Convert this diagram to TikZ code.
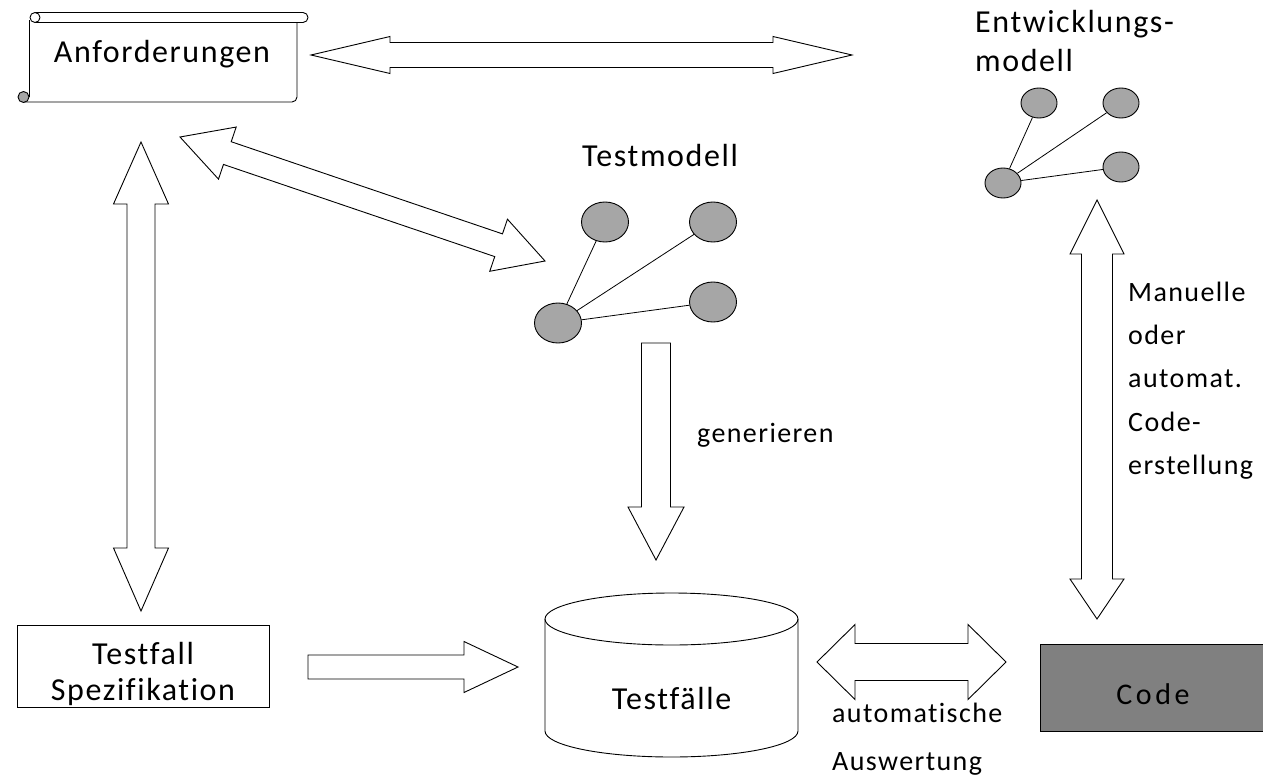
\documentclass[tikz,border=0pt]{standalone}
\usepackage{fontspec}
\setmainfont{Carlito}[LetterSpace=5, Ligatures=NoCommon]
\usetikzlibrary{shapes,calc}
\definecolor{knotgray}{RGB}{166,166,166}
\definecolor{codegray}{RGB}{128,128,128}

\tikzset{
	blockarrow/.style={draw=black, fill=white, line width=0.9pt, line join=miter},
	knoten/.style={shape=ellipse, draw=black, fill=knotgray, line width=0.9pt, minimum width=47pt, minimum height=40pt, inner sep=0pt},
	kleinknoten/.style={knoten, minimum width=36pt, minimum height=30pt},
	gross/.style={font=\fontsize{32}{38}\selectfont, inner sep=0pt},
	klein/.style={font=\fontsize{28}{34}\selectfont, inner sep=0pt}
}

% double block arrow: start, end, shaft half width, head half width, head lengths
\newcommand{\dblarrow}[6]{%
	\coordinate (h1) at ($(#1)!#5!(#2)$);
	\coordinate (h2) at ($(#2)!#6!(#1)$);
	\draw[blockarrow] (#1) -- ($(h1)!#4!90:(#2)$) -- ($(h1)!#3!90:(#2)$) -- ($(h2)!#3!-90:(#1)$) -- ($(h2)!#4!-90:(#1)$) -- (#2)
		-- ($(h2)!#4!90:(#1)$) -- ($(h2)!#3!90:(#1)$) -- ($(h1)!#3!-90:(#2)$) -- ($(h1)!#4!-90:(#2)$) -- cycle;
}
% single block arrow: tail, tip, shaft half width, head half width, head length
\newcommand{\sglarrow}[5]{%
	\coordinate (h2) at ($(#2)!#5!(#1)$);
	\draw[blockarrow] ($(#1)!#3!90:(#2)$) -- ($(h2)!#3!-90:(#1)$) -- ($(h2)!#4!-90:(#1)$) -- (#2)
		-- ($(h2)!#4!90:(#1)$) -- ($(h2)!#3!90:(#1)$) -- ($(#1)!#3!-90:(#2)$) -- cycle;
}

\begin{document}
\begin{tikzpicture}[x=1pt, y=-1pt]

	\useasboundingbox (0,0) rectangle (1263,779);

	% Anforderungen (scroll)
	\draw[line width=0.9pt] (29,20) -- (29,97);
	\draw[line width=0.9pt] (297,22.5) -- (297,97) arc[start angle=0, end angle=-90, radius=5pt] -- (23,102);
	\draw[line width=0.9pt, fill=white] (35,12.5) -- (303,12.5) arc[start angle=90, end angle=-90, radius=5pt] -- (35,22.5);
	\draw[line width=0.9pt, fill=white] (35,17.5) circle[radius=5pt];
	\draw[line width=0.9pt, fill=knotgray] (23.5,97) circle[radius=5.5pt];
	\draw (162,62) node[gross, anchor=base](anf){Anforderungen};

	% Testmodell
	\draw (660,166) node[gross, anchor=base](tm){Testmodell};
	\draw (605,222) node[knoten](t1){};
	\draw (713,222) node[knoten](t2){};
	\draw (713,302) node[knoten](t3){};
	\draw (558,323) node[knoten](t0){};
	\draw [line width=0.8pt](t0) -- (t1);
	\draw [line width=0.8pt](t0) -- (t2);
	\draw [line width=0.8pt](t0) -- (t3);

	% Entwicklungsmodell
	\draw (975,32) node[gross, anchor=base west](ent1){Entwicklungs-};
	\draw (975,71) node[gross, anchor=base west](ent2){modell};
	\draw (1039,103) node[kleinknoten](e1){};
	\draw (1121,103) node[kleinknoten](e2){};
	\draw (1121,167) node[kleinknoten](e3){};
	\draw (1003,183) node[kleinknoten](e0){};
	\draw [line width=0.8pt](e0) -- (e1);
	\draw [line width=0.8pt](e0) -- (e2);
	\draw [line width=0.8pt](e0) -- (e3);

	% Testfall Spezifikation
	\draw (143,666) node[shape=rectangle, draw=black, line width=0.9pt, minimum width=252pt, minimum height=82pt](tfs){};
	\draw (143,664) node[gross, anchor=base](tfs1){Testfall};
	\draw (143,700) node[gross, anchor=base](tfs2){Spezifikation};

	% Testfaelle (cylinder)
	\draw[line width=0.9pt] (545,619) -- (545,731) arc[start angle=180, end angle=360, x radius=126.5pt, y radius=26pt] -- (798,619);
	\draw[line width=0.9pt] (671.5,619) ellipse[x radius=126.5pt, y radius=26pt];
	\draw (671.5,709) node[gross, anchor=base](tc){Testfälle};

	% Code
	\draw (1040,644) node[shape=rectangle, draw=black, fill=codegray, line width=0.9pt, anchor=north west, minimum width=228pt, minimum height=87pt](code){};
	\draw (1153,704) node[inner sep=0pt, anchor=base, font=\fontsize{30}{36}\selectfont\addfontfeature{LetterSpace=12}](codetext){Code};

	% block arrows
	\coordinate (a1) at (311,55);
	\coordinate (a2) at (852,55);
	\dblarrow{a1}{a2}{12.5pt}{18.5pt}{79pt}{79pt}

	\coordinate (b1) at (141,142);
	\coordinate (b2) at (141,611);
	\dblarrow{b1}{b2}{14pt}{27.5pt}{62pt}{63pt}

	\coordinate (c1) at (180,137);
	\coordinate (c2) at (545,261);
	\dblarrow{c1}{c2}{12pt}{27.5pt}{50pt}{49pt}

	\coordinate (d1) at (656,343);
	\coordinate (d2) at (656,560);
	\sglarrow{d1}{d2}{14.5pt}{28pt}{53pt}

	\coordinate (f1) at (1097,200);
	\coordinate (f2) at (1097,619);
	\dblarrow{f1}{f2}{15.5pt}{27pt}{54pt}{40pt}

	\coordinate (g1) at (308,667);
	\coordinate (g2) at (518,667);
	\sglarrow{g1}{g2}{12pt}{25.5pt}{54pt}

	\coordinate (k1) at (817,662);
	\coordinate (k2) at (1006,662);
	\dblarrow{k1}{k2}{18.5pt}{37.5pt}{38pt}{38pt}

	% labels
	\draw (697,442) node[klein, anchor=base west](gen){generieren};
	\draw (1128,301) node[klein, anchor=base west](m1){Manuelle};
	\draw (1128,344) node[klein, anchor=base west](m2){oder};
	\draw (1128,387) node[klein, anchor=base west](m3){automat.};
	\draw (1128,431) node[klein, anchor=base west](m4){Code-};
	\draw (1128,474) node[klein, anchor=base west](m5){erstellung};
	\draw (832,722) node[klein, anchor=base west](aw1){automatische};
	\draw (832,770) node[klein, anchor=base west](aw2){Auswertung};
\end{tikzpicture}
\end{document}
